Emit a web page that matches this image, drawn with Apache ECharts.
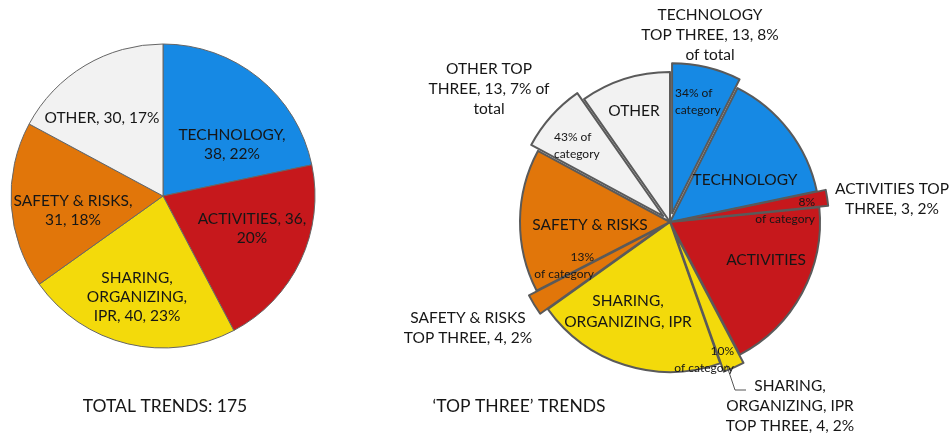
<!DOCTYPE html>
<html>
<head>
<meta charset="utf-8">
<script src="https://cdn.jsdelivr.net/npm/echarts@6/dist/echarts.min.js"></script>
<style>
html,body{margin:0;padding:0;background:#fff;}
#chart{width:952px;height:436px;}
</style>
</head>
<body>
<div id="chart"></div>
<script>
// ---------- data ----------
const leftNames = ['TECHNOLOGY', 'ACTIVITIES', 'SHARING, ORGANIZING, IPR', 'SAFETY & RISKS', 'OTHER'];
const leftValues = [38, 36, 40, 31, 30];
const leftLabels = ['TECHNOLOGY,\n38, 22%', 'ACTIVITIES, 36,\n20%', 'SHARING,\nORGANIZING,\nIPR, 40, 23%', 'SAFETY & RISKS,\n31, 18%', 'OTHER, 30, 17%'];
const categoryColors = ['#1689e4', '#c6181c', '#f3da0b', '#e1760a', '#f2f2f2'];

const rightNames = ['TECHNOLOGY TOP THREE', 'TECHNOLOGY', 'ACTIVITIES TOP THREE', 'ACTIVITIES',
  'SHARING TOP THREE', 'SHARING, ORGANIZING, IPR', 'SAFETY & RISKS TOP THREE', 'SAFETY & RISKS',
  'OTHER TOP THREE', 'OTHER'];
const rightValues = [13, 25, 3, 33, 4, 36, 4, 27, 13, 17];
const rightCategory = [0, 0, 1, 1, 2, 2, 3, 3, 4, 4];
const rightTopThree = [true, false, true, false, true, false, true, false, true, false];
const rightInnerLabels = ['34% of\ncategory', 'TECHNOLOGY', '8%\nof category', 'ACTIVITIES',
  '10%\nof category', 'SHARING,\nORGANIZING, IPR', '13%\nof category', 'SAFETY & RISKS',
  '43% of\ncategory', 'OTHER'];
const rightOuterLabels = ['TECHNOLOGY\nTOP THREE, 13, 8%\nof total', '', 'ACTIVITIES TOP\nTHREE, 3, 2%', '',
  'SHARING,\nORGANIZING, IPR\nTOP THREE, 4, 2%', '', 'SAFETY & RISKS\nTOP THREE, 4, 2%', '',
  'OTHER TOP\nTHREE, 13, 7% of\ntotal', ''];
const titles = ['TOTAL TRENDS: 175', '\u2018TOP THREE\u2019 TRENDS'];

// ---------- layout (text placement only) ----------
const FONT = 'Lato';
const TEXT = '#161616';
const RIGHT_CENTER = [670, 222];
const EXPLODE = 9;
const leftLabelPos = [
  {x: 232, y: 144, align: 'center'},
  {x: 252, y: 228, align: 'center'},
  {x: 137, y: 297, align: 'center'},
  {x: 73, y: 210, align: 'center'},
  {x: 102, y: 118, align: 'center'}
];
const rightInnerPos = [
  {x: 675, y: 102, align: 'left', fs: 12},
  {x: 745, y: 180, align: 'center', fs: 15.5},
  {x: 815, y: 211, align: 'right', fs: 12},
  {x: 766, y: 260, align: 'center', fs: 15.5},
  {x: 734, y: 360, align: 'right', fs: 12},
  {x: 628, y: 311, align: 'center', fs: 15.5},
  {x: 594, y: 266, align: 'right', fs: 12},
  {x: 590, y: 225, align: 'center', fs: 15.5},
  {x: 554, y: 146, align: 'left', fs: 12},
  {x: 634, y: 111, align: 'center', fs: 15.5}
];
const rightOuterPos = [
  {x: 710, y: 35, align: 'center'}, null,
  {x: 892, y: 199, align: 'center'}, null,
  {x: 790, y: 406, align: 'center', line: true}, null,
  {x: 468, y: 328, align: 'center'}, null,
  {x: 489, y: 89, align: 'center'}, null
];

const leftData = leftNames.map((n, i) => ({
  name: n, value: leftValues[i],
  itemStyle: {color: categoryColors[i]},
  label: {formatter: leftLabels[i]}
}));
const rightData = rightNames.map((n, i) => ({
  name: n, value: rightValues[i], selected: rightTopThree[i],
  itemStyle: {color: categoryColors[rightCategory[i]]},
  select: {itemStyle: {color: categoryColors[rightCategory[i]], borderColor: '#5a5a5a', borderWidth: 2}}
}));
const rightInnerData = rightNames.map((n, i) => ({
  name: n, value: rightValues[i],
  label: {formatter: rightInnerLabels[i], fontSize: rightInnerPos[i].fs,
          lineHeight: Math.round(rightInnerPos[i].fs + 5)}
}));
const rightOuterData = rightNames.map((n, i) => ({
  name: n, value: rightValues[i],
  label: {show: rightOuterLabels[i] !== '', formatter: rightOuterLabels[i]},
  labelLine: {show: !!(rightOuterPos[i] && rightOuterPos[i].line)}
}));

const ghost = {color: 'rgba(0,0,0,0)', borderWidth: 0};

const chart = echarts.init(document.getElementById('chart'), null, {renderer: 'canvas'});
chart.setOption({
  animation: false,
  backgroundColor: '#ffffff',
  title: [
    {text: titles[0], left: 160, top: 392, textAlign: 'center',
     textStyle: {fontFamily: FONT, fontSize: 17.5, fontWeight: 'normal', color: TEXT}},
    {text: titles[1], left: 514, top: 392, textAlign: 'center',
     textStyle: {fontFamily: FONT, fontSize: 17.5, fontWeight: 'normal', color: TEXT}}
  ],
  series: [
    {
      type: 'pie', center: [163, 196], radius: 152, startAngle: 90,
      clockwise: true, avoidLabelOverlap: false, silent: true,
      itemStyle: {borderColor: '#666', borderWidth: 1},
      label: {position: 'inside', fontFamily: FONT, fontSize: 15.5, lineHeight: 19, color: TEXT},
      labelLine: {show: false},
      labelLayout: p => {
        const q = leftLabelPos[p.dataIndex];
        return {x: q.x, y: q.y, align: q.align, verticalAlign: 'middle'};
      },
      data: leftData
    },
    {
      type: 'pie', center: RIGHT_CENTER, radius: 150, startAngle: 90,
      clockwise: true, avoidLabelOverlap: false, silent: true,
      selectedMode: 'multiple', selectedOffset: EXPLODE,
      itemStyle: {borderColor: '#5a5a5a', borderWidth: 2},
      label: {show: false}, labelLine: {show: false},
      data: rightData
    },
    {
      type: 'pie', center: RIGHT_CENTER, radius: 150, startAngle: 90, z: 6,
      clockwise: true, avoidLabelOverlap: false, silent: true,
      itemStyle: ghost,
      label: {position: 'inside', fontFamily: FONT, color: TEXT},
      labelLine: {show: false},
      labelLayout: p => {
        const q = rightInnerPos[p.dataIndex];
        return {x: q.x, y: q.y, align: q.align, verticalAlign: 'middle'};
      },
      data: rightInnerData
    },
    {
      type: 'pie', center: RIGHT_CENTER, radius: 150, startAngle: 90, z: 6,
      clockwise: true, avoidLabelOverlap: false, silent: true,
      itemStyle: ghost,
      label: {position: 'outside', fontFamily: FONT, fontSize: 15.5, lineHeight: 20, color: TEXT},
      labelLine: {lineStyle: {color: '#555', width: 1}, length: 20, length2: 10},
      labelLayout: p => {
        const q = rightOuterPos[p.dataIndex];
        if (!q) return {};
        const out = {x: q.x, y: q.y, align: q.align, verticalAlign: 'middle'};
        if (q.line && p.labelLinePoints && p.labelLinePoints.length) {
          const s = p.labelLinePoints[0];
          const dx = s[0] - RIGHT_CENTER[0], dy = s[1] - RIGHT_CENTER[1];
          const d = Math.sqrt(dx * dx + dy * dy) || 1;
          const sx = s[0] + dx / d * (EXPLODE - 3) - 6, sy = s[1] + dy / d * (EXPLODE - 3);
          out.labelLinePoints = [[sx, sy], [q.x - 55, q.y - 16], [q.x - 44, q.y - 16]];
        }
        return out;
      },
      data: rightOuterData
    }
  ]
});
</script>
</body>
</html>
